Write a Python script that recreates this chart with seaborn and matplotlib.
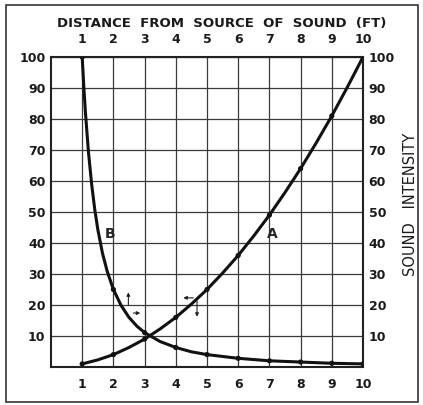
import matplotlib
matplotlib.use("Agg")
import matplotlib.pyplot as plt
import matplotlib.patches as patches
import seaborn as sns
import pandas as pd

# curve A: intensity grows as you come closer
a_x = [1, 1.5, 2, 2.5, 3, 3.5, 4, 4.5, 5, 5.5, 6, 6.5, 7, 7.5, 8, 8.5, 9, 9.5, 10]
a_y = [1, 2.3, 4, 6.3, 9, 12.3, 16, 20.3, 25, 30.3, 36, 42.3, 49, 56.3, 64, 72.3, 81, 90.3, 100]
a_dots_x = [1, 2, 3, 4, 5, 6, 7, 8, 9, 10]
a_dots_y = [1, 4, 9, 16, 25, 36, 49, 64, 81, 100]

# curve B: intensity falls off with distance
b_x = [1, 1.05, 1.1, 1.2, 1.3, 1.4, 1.5, 1.65, 1.8, 2, 2.25, 2.5, 2.75, 3, 3.5, 4, 4.5, 5, 6, 7, 8, 9, 10]
b_y = [100, 90.7, 82.6, 69.4, 59.2, 51, 44.4, 36.7, 30.9, 25, 19.8, 16, 13.2, 11.1, 8.2, 6.3, 4.9, 4, 2.8, 2, 1.6, 1.2, 1]
b_dots_x = [1, 2, 3, 4, 5, 6, 7, 8, 9, 10]
b_dots_y = [100, 25, 11.1, 6.3, 4, 2.8, 2, 1.6, 1.2, 1]

x_ticks = [1, 2, 3, 4, 5, 6, 7, 8, 9, 10]
y_ticks = [10, 20, 30, 40, 50, 60, 70, 80, 90, 100]

sns.set_style("white")
plt.rcParams["font.family"] = ["DejaVu Sans"]

fig = plt.figure(figsize=(4.23, 4.05), dpi=100)
ax = fig.add_axes([51 / 423, 38 / 405, 312 / 423, 310 / 405])

line_a = pd.DataFrame({"x": a_x, "y": a_y})
line_b = pd.DataFrame({"x": b_x, "y": b_y})
sns.lineplot(data=line_a, x="x", y="y", ax=ax, color="#111111", lw=2.2, sort=False)
sns.lineplot(data=line_b, x="x", y="y", ax=ax, color="#111111", lw=2.2, sort=False)
sns.scatterplot(x=a_dots_x, y=a_dots_y, ax=ax, color="#111111", s=14, edgecolor="none", zorder=5)
sns.scatterplot(x=b_dots_x, y=b_dots_y, ax=ax, color="#111111", s=14, edgecolor="none", zorder=5)

ax.set_xlim(0, 10)
ax.set_ylim(0, 100)
ax.set_xticks(x_ticks)
ax.set_yticks(y_ticks)
ax.set_xlabel("")
ax.set_ylabel("")
ax.grid(True, color="#3a3a3a", lw=0.9)
for s in ax.spines.values():
    s.set_linewidth(1.5)
    s.set_color("#222222")

ax.tick_params(axis="x", length=0, pad=8, top=True, labeltop=True, labelsize=9)
ax.tick_params(axis="y", length=0, right=True, labelright=True, labelsize=9)
ax.tick_params(axis="y", which="both", pad=4)
for lab in ax.get_xticklabels() + ax.get_yticklabels():
    lab.set_fontweight("bold")
    lab.set_color("#1a1a1a")

ax.text(1.9, 43, "B", fontsize=10, fontweight="bold", ha="center", va="center")
ax.text(7.1, 43, "A", fontsize=10, fontweight="bold", ha="center", va="center")

arr = dict(arrowstyle="-|>", color="#222222", lw=0.8, mutation_scale=5)
ax.annotate("", xy=(2.48, 25), xytext=(2.48, 19), arrowprops=arr)
ax.annotate("", xy=(2.95, 17.4), xytext=(2.55, 17.4), arrowprops=arr)
ax.annotate("", xy=(4.15, 22.3), xytext=(4.65, 22.3), arrowprops=arr)
ax.annotate("", xy=(4.68, 15.3), xytext=(4.68, 22.3), arrowprops=arr)

fig.text(222 / 423, 1 - 24 / 405, "DISTANCE  FROM  SOURCE  OF  SOUND  (FT)", fontsize=9.5,
         ha="center", va="center", color="#1a1a1a", fontweight="semibold")
fig.text(410 / 423, 1 - 204 / 405, "SOUND   INTENSITY", fontsize=10.5, rotation=90,
         ha="center", va="center", color="#1a1a1a")

fig.patches.append(patches.Rectangle((6 / 423, 3 / 405), 412 / 423, 397 / 405,
                                     transform=fig.transFigure, fill=False,
                                     edgecolor="#333333", lw=1.2))

fig.savefig("out.png", dpi=100)
